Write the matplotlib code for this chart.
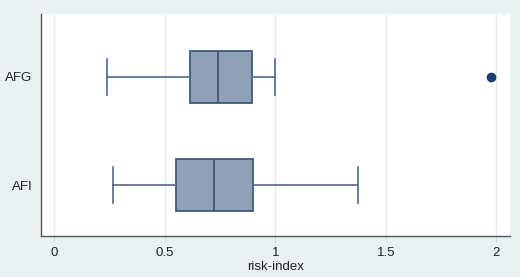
import matplotlib
matplotlib.use("Agg")
import matplotlib.pyplot as plt

plt.rcParams['font.family'] = ['Liberation Sans', 'DejaVu Sans']

categories = ["AFI", "AFG"]
whisker_low = [0.267, 0.237]
q1 = [0.551, 0.614]
median = [0.724, 0.742]
q3 = [0.898, 0.896]
whisker_high = [1.373, 0.999]
outliers = [[], [1.976]]

xticks = [0, 0.5, 1, 1.5, 2]
xtick_labels = ["0", "0.5", "1", "1.5", "2"]

bg = "#EAF1F3"
box_fill = "#90A0B6"
edge = "#3E5A80"
wcol = "#4F6890"

fig = plt.figure(figsize=(5.2, 2.77), dpi=100, facecolor=bg)
ax = fig.add_axes([41/520, 1-236/277, (509.7-41)/520, (236-14)/277])
ax.set_facecolor("white")

stats = []
for i, c in enumerate(categories):
    stats.append(dict(label=c, whislo=whisker_low[i], q1=q1[i], med=median[i],
                      q3=q3[i], whishi=whisker_high[i], fliers=outliers[i]))

ax.bxp(stats, positions=[1, 2], vert=False, widths=0.49, patch_artist=True,
       boxprops=dict(facecolor=box_fill, edgecolor=edge, linewidth=1.3),
       medianprops=dict(color=edge, linewidth=1.3),
       whiskerprops=dict(color=wcol, linewidth=1.2),
       capprops=dict(color=wcol, linewidth=1.2),
       capwidths=0.33,
       flierprops=dict(marker="o", markerfacecolor="#1A3F6E", markeredgecolor="#1A3F6E",
                       markersize=6))

ax.set_xlim(-0.06, 2.061)
ax.set_ylim(0.528, 2.583)
ax.set_xticks(xticks)
ax.set_xticklabels(xtick_labels, fontsize=9.5, color="#222222")
ax.set_yticks([1, 2])
ax.set_yticklabels(categories, fontsize=9.5, color="#222222")
ax.tick_params(axis="y", length=0, pad=6)
ax.tick_params(axis="x", length=4, color="#C8D8DC", pad=4)
ax.grid(axis="x", color="#E3EDEF", linewidth=1.0)
ax.set_axisbelow(True)
for s in ["top", "right"]:
    ax.spines[s].set_visible(False)
for s in ["left", "bottom"]:
    ax.spines[s].set_color("#555555")
    ax.spines[s].set_linewidth(1.0)
ax.set_xlabel("risk-index", fontsize=9.5, color="#222222", labelpad=1)

fig.savefig("out.png", dpi=100, facecolor=bg)
